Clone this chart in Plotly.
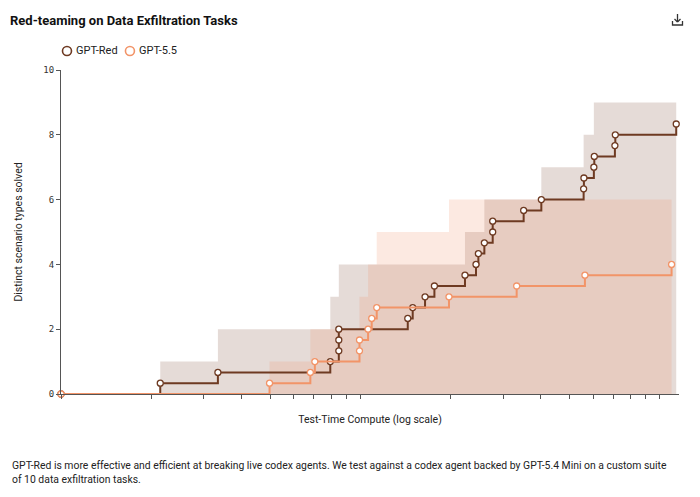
import plotly.graph_objects as go

# mean curves (3 runs averaged), x = test-time compute (arbitrary units, log scale)
red_x = [1, 2.146, 3.344, 7.94, 8.478, 8.478, 8.478, 14.41, 14.97, 16.46, 17.69, 22.38,
         24.36, 24.81, 25.98, 27.70, 27.70, 35.15, 40.27, 55.76, 55.88, 60.33, 60.53,
         70.93, 71.15, 113.7]
red_y = [0, 1/3, 2/3, 1, 4/3, 5/3, 2, 7/3, 8/3, 3, 10/3, 11/3,
         4, 13/3, 14/3, 5, 16/3, 17/3, 6, 19/3, 20/3, 7, 22/3,
         23/3, 8, 25/3]

g55_x = [1, 4.975, 6.81, 7.05, 9.94, 9.94, 10.62, 10.92, 11.35, 19.79, 33.31, 56.32, 109.7]
g55_y = [0, 1/3, 2/3, 1, 4/3, 5/3, 2, 7/3, 8/3, 3, 10/3, 11/3, 4]

# best-run envelopes
red_band_x = [1, 2.146, 3.344, 7.94, 8.478, 22.38, 25.98, 40.27, 55.76, 60.33, 113.7]
red_band_y = [0, 1, 2, 3, 4, 5, 6, 7, 8, 9, 9]

g55_band_x = [1, 4.975, 6.81, 9.94, 10.62, 11.35, 19.79, 109.7]
g55_band_y = [0, 1, 2, 3, 4, 5, 6, 6]

y_ticks = [0, 2, 4, 6, 8, 10]
x_ticks = [m * 10 ** e for e in (0, 1) for m in range(1, 10)] + [100]

series_names = ["GPT-Red", "GPT-5.5"]

RED = "#6e3a22"
ORANGE = "#f29468"
FONT = "Roboto, Inter, sans-serif"

fig = go.Figure()

fig.add_trace(go.Scatter(x=red_band_x, y=red_band_y, mode="lines", line=dict(width=0, shape="hv"),
                         fill="tozeroy", fillcolor="rgba(110,58,34,0.18)",
                         hoverinfo="skip", showlegend=False))
fig.add_trace(go.Scatter(x=g55_band_x, y=g55_band_y, mode="lines", line=dict(width=0, shape="hv"),
                         fill="tozeroy", fillcolor="rgba(242,145,105,0.2)",
                         hoverinfo="skip", showlegend=False))

fig.add_trace(go.Scatter(x=red_x, y=red_y, mode="lines+markers", name=series_names[0],
                         line=dict(color=RED, width=2, shape="hv"),
                         marker=dict(size=6, color="white", line=dict(color=RED, width=1.3)),
                         cliponaxis=False, showlegend=False))
fig.add_trace(go.Scatter(x=g55_x, y=g55_y, mode="lines+markers", name=series_names[1],
                         line=dict(color=ORANGE, width=2, shape="hv"),
                         marker=dict(size=6, color="white", line=dict(color=ORANGE, width=1.3)),
                         cliponaxis=False, showlegend=False))

# plot area: x 61..679.5 px, y 70..394 px
def px_x(p):
    return (p - 61) / 618.5

def px_y(p):
    return (394 - p) / 324

# legend drawn by hand: open circle + label
annotations = []
for name, col, cx in [(series_names[0], RED, 67), (series_names[1], ORANGE, 130)]:
    fig.add_shape(type="circle", xref="paper", yref="paper",
                  x0=px_x(cx - 4.5), x1=px_x(cx + 4.5), y0=px_y(55.5), y1=px_y(46.5),
                  line=dict(color=col, width=1.6), fillcolor="white")
    annotations.append(dict(xref="paper", yref="paper", x=px_x(cx + 7), y=px_y(51),
                            xanchor="left", yanchor="middle", showarrow=False, text=name,
                            font=dict(size=11, color="#222", family=FONT)))

# download icon (top right)
icon = dict(xref="paper", yref="paper", line=dict(color="#333", width=1.3))
fig.add_shape(type="line", x0=px_x(678), x1=px_x(678), y0=px_y(14), y1=px_y(22), **icon)
fig.add_shape(type="line", x0=px_x(675), x1=px_x(678), y0=px_y(19), y1=px_y(22), **icon)
fig.add_shape(type="line", x0=px_x(681), x1=px_x(678), y0=px_y(19), y1=px_y(22), **icon)
fig.add_shape(type="path", path="M {} {} L {} {} L {} {} L {} {}".format(
    px_x(673), px_y(21), px_x(673), px_y(25), px_x(683), px_y(25), px_x(683), px_y(21)), **icon)

annotations.append(dict(xref="paper", yref="paper", x=px_x(10), y=px_y(457), xanchor="left",
                        yanchor="top", align="left", showarrow=False,
                        text="GPT-Red is more effective and efficient at breaking live codex agents. "
                             "We test against a codex agent backed by GPT-5.4 Mini on a custom suite<br>"
                             "of 10 data exfiltration tasks.",
                        font=dict(size=10.4, color="#222", family=FONT)))

fig.update_layout(
    width=700, height=497,
    margin=dict(l=61, r=20.5, t=70, b=103, autoexpand=False),
    paper_bgcolor="white", plot_bgcolor="white",
    font=dict(family=FONT, color="#222"),
    showlegend=False,
    title=dict(text="<b>Red-teaming on Data Exfiltration Tasks</b>", x=10 / 700, xanchor="left",
               y=1 - 20 / 497, yanchor="middle", pad=dict(l=0, t=0, b=0, r=0),
               font=dict(size=13, color="#111", family=FONT)),
    xaxis=dict(type="log", range=[0, 2.065], tickvals=x_ticks, showticklabels=False,
               ticks="outside", ticklen=4, tickcolor="#555", showline=True, linecolor="#555",
               linewidth=1, showgrid=False, zeroline=False, automargin=False,
               title=dict(text="Test-Time Compute (log scale)", standoff=17,
                          font=dict(size=10.5, color="#222"))),
    yaxis=dict(range=[0, 10], tickvals=y_ticks, ticks="outside", ticklen=4, tickcolor="#555",
               showline=True, linecolor="#555", linewidth=1, showgrid=False, zeroline=False,
               automargin=False,
               tickfont=dict(family="DejaVu Sans Mono, monospace", size=9, color="#333"),
               title=dict(text="Distinct scenario types solved", standoff=18,
                          font=dict(size=10.5, color="#222"))),
    annotations=annotations,
)

# drop the browser's default 8px body margin so the figure sits at the page corner
fig.write_html("out.html", config={"displayModeBar": False},
               post_script="document.body.style.margin='0';")
